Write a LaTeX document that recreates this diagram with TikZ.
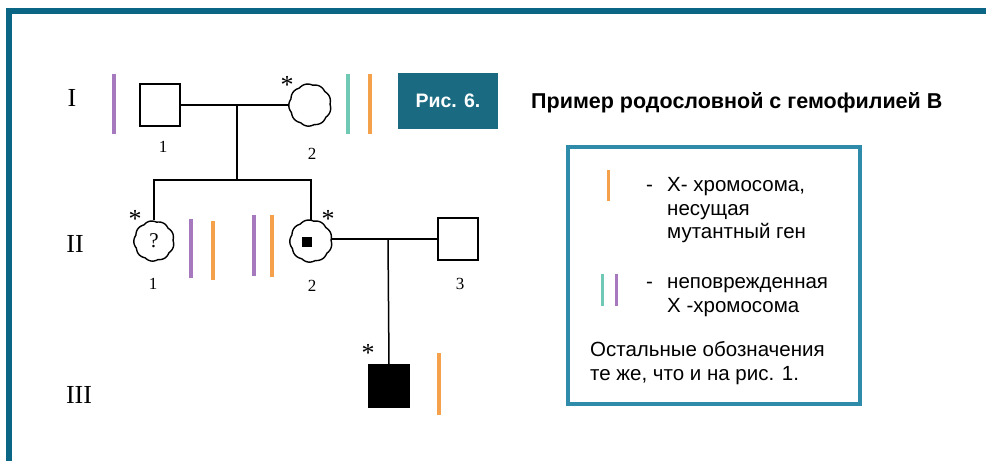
\documentclass[tikz,border=0pt]{standalone}
\usepackage{fontspec}
\setmainfont{Liberation Serif}
\newfontfamily\arial{Liberation Sans}
\definecolor{framec}{HTML}{0B6585}
\definecolor{titlec}{HTML}{1A6B82}
\definecolor{legc}{HTML}{2E8BAA}
\definecolor{chrp}{HTML}{A678BE}
\definecolor{chrt}{HTML}{6FC9B4}
\definecolor{chro}{HTML}{F5A04A}
\tikzset{
  male/.style={draw, line width=1.4pt, minimum width=40pt, minimum height=42pt, inner sep=0pt},
  female/.style={circle, minimum size=42pt, inner sep=0pt},
  link/.style={line width=1.5pt},
  gen/.style={font=\fontsize{26}{26}\selectfont},
  idx/.style={font=\fontsize{17}{17}\selectfont},
  star/.style={font=\fontsize{26}{26}\selectfont, inner sep=0pt},
  chrom/.style={line width=4pt},
  legtext/.style={font=\arial\fontsize{20.5}{23.5}\selectfont, align=left, anchor=north west, inner sep=0pt}
}
% scalloped outline of a female symbol
\newcommand\wavyring[2]{%
  \draw[line width=1.4pt, shift={(#1)}] plot[domain=0:360, samples=241]
    ({(#2+1.2*abs(sin(4.5*\x+10)))*cos(\x)}, {(#2+1.2*abs(sin(4.5*\x+10)))*sin(\x)}) -- cycle;}
\begin{document}
\begin{tikzpicture}[x=1pt, y=-1pt]
\useasboundingbox (0,0) rectangle (986,461);
% frame
\fill[framec] (6,8) rectangle (986,14);
\fill[framec] (6,8) rectangle (12,461);

% generation labels
\node[gen] (g1) at (72,98) {I};
\node[gen] (g2) at (75,244) {II};
\node[gen] (g3) at (79,395) {III};

% generation I
\node[male] (m1) at (160,105) {};
\node[female] (f1) at (310,105) {};
\wavyring{f1}{20}
\node[star] (s1) at (287,85) {*};
\node[idx] (n11) at (163,147) {1};
\node[idx] (n12) at (312,154) {2};
\coordinate (mc1) at (237,105);
\coordinate (sb1) at (237,180);
\draw[link] (m1.east) -- (f1.west);
\draw[link] (mc1) -- (sb1);

% generation II
\node[female] (d1) at (154,241) {};
\wavyring{d1}{19}
\node[font=\fontsize{21}{21}\selectfont] (q1) at (d1) {?};
\node[female] (d2) at (311,241) {};
\wavyring{d2}{20}
\node[fill=black, minimum size=10pt, inner sep=0pt] (c2) at (307,242) {};
\node[male] (m3) at (458,239) {};
\node[star] (s2) at (135,219) {*};
\node[star] (s3) at (328,219) {*};
\node[idx] (n21) at (153,284) {1};
\node[idx] (n22) at (312,286) {2};
\node[idx] (n23) at (460,284) {3};
\draw[link] (d1.north) |- (sb1) -| (d2.north);
\coordinate (mc2) at (388,239);
\draw[link] (d2.east |- mc2) -- (m3.west);

% generation III
\node[male, fill=black] (p1) at (389,386) {};
\node[star] (s4) at (368,353) {*};
\draw[link] (mc2) -- (p1.north);

% chromosomes
\draw[chrom, chrp] (114,74) -- (114,134);
\draw[chrom, chrt] (348,74) -- (348,134);
\draw[chrom, chro] (370,74) -- (370,134);
\draw[chrom, chrp] (191,219) -- (191,278);
\draw[chrom, chro] (213,221) -- (213,280);
\draw[chrom, chrp] (254,215) -- (254,276);
\draw[chrom, chro] (272,215) -- (272,277);
\draw[chrom, chro] (439,353) -- (439,415);

% caption
\node[fill=titlec, minimum width=100pt, minimum height=56pt, inner sep=0pt,
      text=white, font=\arial\bfseries\fontsize{19.5}{19.5}\selectfont] (cap) at (448,101) {Рис. 6.};
\node[anchor=west, inner sep=0pt, font=\arial\bfseries\fontsize{21.5}{21.5}\selectfont] (ttl) at (531,103)
  {Пример родословной с гемофилией В};

% legend
\draw[legc, line width=3.5pt] (568,147) rectangle (860,404);
\draw[chrom, chro, line width=3pt] (608,170) -- (608,201);
\node[legtext] (d1l) at (646,175) {\strut-};
\node[legtext] (l1) at (667,175) {\strut X- хромосома,\\несущая\\мутантный ген};
\draw[chrom, chrt, line width=3pt] (602,274) -- (602,306);
\draw[chrom, chrp, line width=3pt] (616,274) -- (616,306);
\node[legtext] (d2l) at (646,272) {\strut-};
\node[legtext] (l4) at (667,272) {\strut неповрежденная\\X -хромосома};
\node[legtext] (l6) at (590,340) {\strut Остальные обозначения\\те же, что и на рис. 1.};
\end{tikzpicture}
\end{document}
